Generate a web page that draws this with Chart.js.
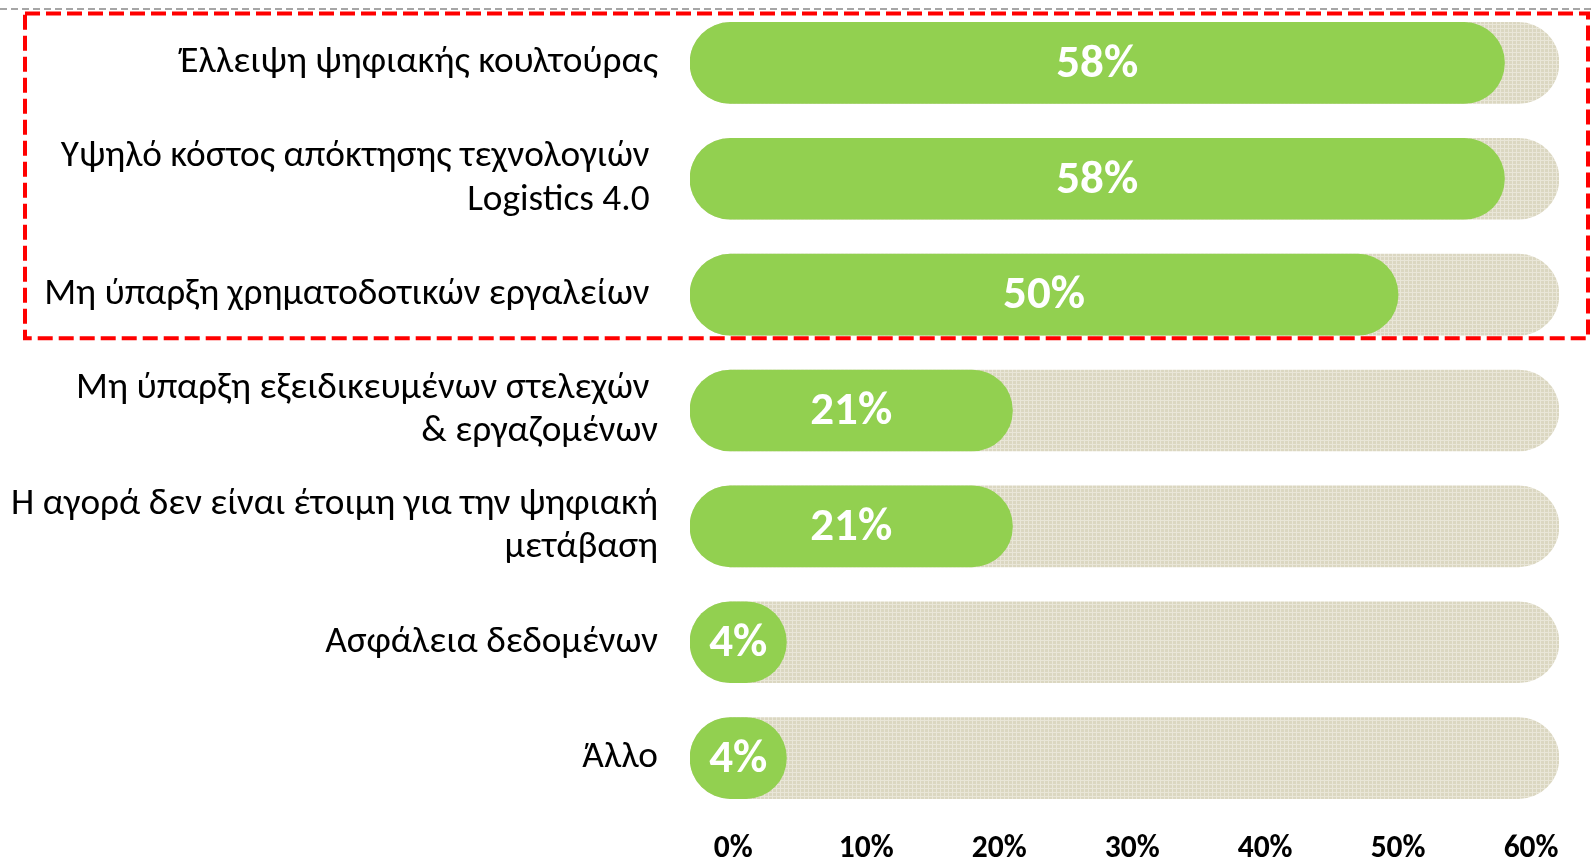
<!DOCTYPE html>
<html>
<head>
<meta charset="utf-8">
<script src="https://cdn.jsdelivr.net/npm/chart.js@4.4.1/dist/chart.umd.min.js"></script>
<style>
  html, body { margin: 0; padding: 0; background: #fff; overflow: hidden; }
  canvas { display: block; }
</style>
</head>
<body>
<canvas id="barriers" width="1595" height="862"></canvas>
<script>
// categories (trailing spaces kept as in the original text boxes)
const categories = [
  'Έλλειψη ψηφιακής κουλτούρας',
  ['Υψηλό κόστος απόκτησης τεχνολογιών ', 'Logistics 4.0 '],
  'Μη ύπαρξη χρηματοδοτικών εργαλείων ',
  ['Μη ύπαρξη εξειδικευμένων στελεχών ', '& εργαζομένων'],
  ['Η αγορά δεν είναι έτοιμη για την ψηφιακή', 'μετάβαση'],
  'Ασφάλεια δεδομένων',
  'Άλλο'
];
const shares = [58, 58, 50, 21, 21, 4, 4];
const xTicks = [0, 10, 20, 30, 40, 50, 60];
const trackEnd = 62.1;      // grey track runs to the end of the axis
const pillStart = -3.25;    // rounded left cap sits just before 0%
const highlighted = 3;      // first three rows are boxed

const FONT = '"Carlito", "Open Sans", sans-serif';

// textured beige fill for the track
function trackPattern() {
  const c = document.createElement('canvas');
  c.width = 4; c.height = 4;
  const g = c.getContext('2d');
  g.fillStyle = '#dbd7c1';
  g.fillRect(0, 0, 4, 4);
  g.fillStyle = '#e9e6d8';
  g.fillRect(0, 0, 4, 1);
  g.fillRect(0, 0, 1, 4);
  return g.createPattern(c, 'repeat');
}

const barLabels = {
  id: 'barLabels',
  afterDatasetsDraw(chart) {
    const ctx = chart.ctx;
    const meta = chart.getDatasetMeta(0);
    ctx.save();
    ctx.font = 'bold 47px ' + FONT;
    ctx.fillStyle = '#ffffff';
    ctx.textAlign = 'center';
    ctx.textBaseline = 'middle';
    meta.data.forEach((bar, i) => {
      ctx.fillText(shares[i] + '%', (bar.x + bar.base) / 2, bar.y + 2);
    });
    ctx.restore();
  }
};

const frame = {
  id: 'frame',
  afterDraw(chart) {
    const { ctx, chartArea } = chart;
    const rows = chart.getDatasetMeta(1).data;
    const first = rows[0], last = rows[highlighted - 1];
    const top = first.y - first.height / 2 - 9;
    const bottom = last.y + last.height / 2 + 3;
    ctx.save();
    ctx.strokeStyle = '#a6a6a6'; ctx.lineWidth = 2; ctx.setLineDash([7, 4]);
    ctx.beginPath(); ctx.moveTo(0, 9); ctx.lineTo(chart.width, 9); ctx.stroke();
    ctx.strokeStyle = '#ff0000'; ctx.lineWidth = 4; ctx.setLineDash([15, 6]);
    ctx.strokeRect(25, top, chartArea.right + 29 - 25, bottom - top);
    ctx.restore();
  }
};

new Chart(document.getElementById('barriers').getContext('2d'), {
  type: 'bar',
  data: {
    labels: categories,
    datasets: [
      { data: shares, backgroundColor: '#92d050', base: pillStart, order: 0 },
      { data: categories.map(() => trackEnd), backgroundColor: trackPattern(), base: pillStart, order: 1 }
    ]
  },
  options: {
    indexAxis: 'y',
    responsive: false,
    animation: false,
    layout: { padding: { left: 0, right: 36, top: 5, bottom: 0 } },
    datasets: { bar: { grouped: false, barThickness: 81, borderRadius: 40.5, borderSkipped: false } },
    scales: {
      x: {
        min: pillStart, max: trackEnd,
        afterBuildTicks: s => { s.ticks = xTicks.map(v => ({ value: v })); },
        afterFit: s => { s.height = 46; s.paddingLeft = 0; s.paddingRight = 0; },
        grid: { display: false, drawTicks: false },
        border: { display: false },
        ticks: { color: '#000', padding: 14, font: { family: FONT, size: 31.5, weight: 'bold' }, callback: v => v + '%' }
      },
      y: {
        afterFit: s => { s.width = 690; s.paddingTop = 0; s.paddingBottom = 0; },
        grid: { display: false, drawTicks: false },
        border: { display: false },
        ticks: { color: '#000', padding: 32, font: { family: FONT, size: 37.3, lineHeight: 1.16 } }
      }
    },
    plugins: { legend: { display: false }, tooltip: { enabled: false } }
  },
  plugins: [barLabels, frame]
});
</script>
</body>
</html>
